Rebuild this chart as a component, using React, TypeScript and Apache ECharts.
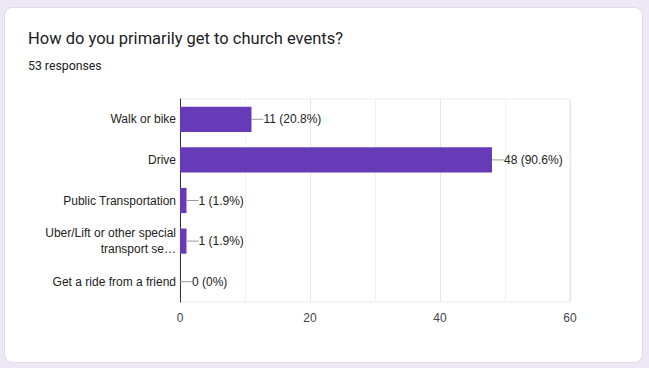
import React, { useEffect, useRef } from "react";
import * as echarts from "echarts";

const categories = [
  "Walk or bike",
  "Drive",
  "Public Transportation",
  "Uber/Lift or other special\ntransport se…",
  "Get a ride from a friend",
];
const counts = [11, 48, 1, 1, 0];
const percents = ["20.8%", "90.6%", "1.9%", "1.9%", "0%"];
const title = "How do you primarily get to church events?";
const subtitle = "53 responses";

export default function App() {
  const ref = useRef<HTMLDivElement>(null);
  useEffect(() => {
    const chart = echarts.init(ref.current!, undefined, { renderer: "svg" });
    chart.setOption({
      animation: false,
      backgroundColor: "#ede7f6",
      graphic: [
        {
          type: "rect",
          shape: { x: 4.5, y: 7.5, width: 638, height: 355, r: 8 },
          style: { fill: "#ffffff", stroke: "#dadce0", lineWidth: 1 },
          z: -10,
        },
        {
          type: "text",
          left: 28,
          top: 30,
          style: { text: title, fill: "#202124", font: "16.5px Roboto" },
        },
        {
          type: "text",
          left: 28,
          top: 60,
          style: { text: subtitle, fill: "#202124", font: "12.3px Roboto" },
        },
      ],
      grid: {
        left: 180,
        right: 79,
        top: 99,
        bottom: 66,
        show: true,
        borderColor: "#ebebeb",
        borderWidth: 1,
      },
      xAxis: {
        type: "value",
        min: 0,
        max: 60,
        interval: 20,
        axisLine: { show: false },
        axisTick: { show: false },
        axisLabel: { color: "#444444", fontSize: 12, fontFamily: "Arial", margin: 10 },
        splitLine: { lineStyle: { color: "#e6e6e6" } },
        minorTick: { show: false, splitNumber: 2 },
        minorSplitLine: { show: true, lineStyle: { color: "#f2f2f2" } },
      },
      yAxis: {
        type: "category",
        data: categories,
        inverse: true,
        axisLine: { show: true, lineStyle: { color: "#333333", width: 1 } },
        axisTick: { show: false },
        axisLabel: {
          color: "#222222",
          fontSize: 12,
          fontFamily: "Arial",
          margin: 4,
          lineHeight: 16,
        },
      },
      series: [
        {
          type: "bar",
          data: counts,
          barCategoryGap: "38%",
          itemStyle: { color: "#673ab7" },
          label: {
            show: true,
            position: "right",
            distance: 0,
            formatter: (p: any) => `{l|}{t|${p.value} (${percents[p.dataIndex]})}`,
            rich: {
              l: { width: 12, height: 1, backgroundColor: "#999999", verticalAlign: "middle" },
              t: { color: "#222222", fontSize: 12, fontFamily: "Arial", verticalAlign: "middle" },
            },
          },
        },
      ],
    });
    return () => chart.dispose();
  }, []);
  return (
    <div
      ref={ref}
      style={{ position: "fixed", left: 0, top: 0, width: 649, height: 368 }}
    />
  );
}
